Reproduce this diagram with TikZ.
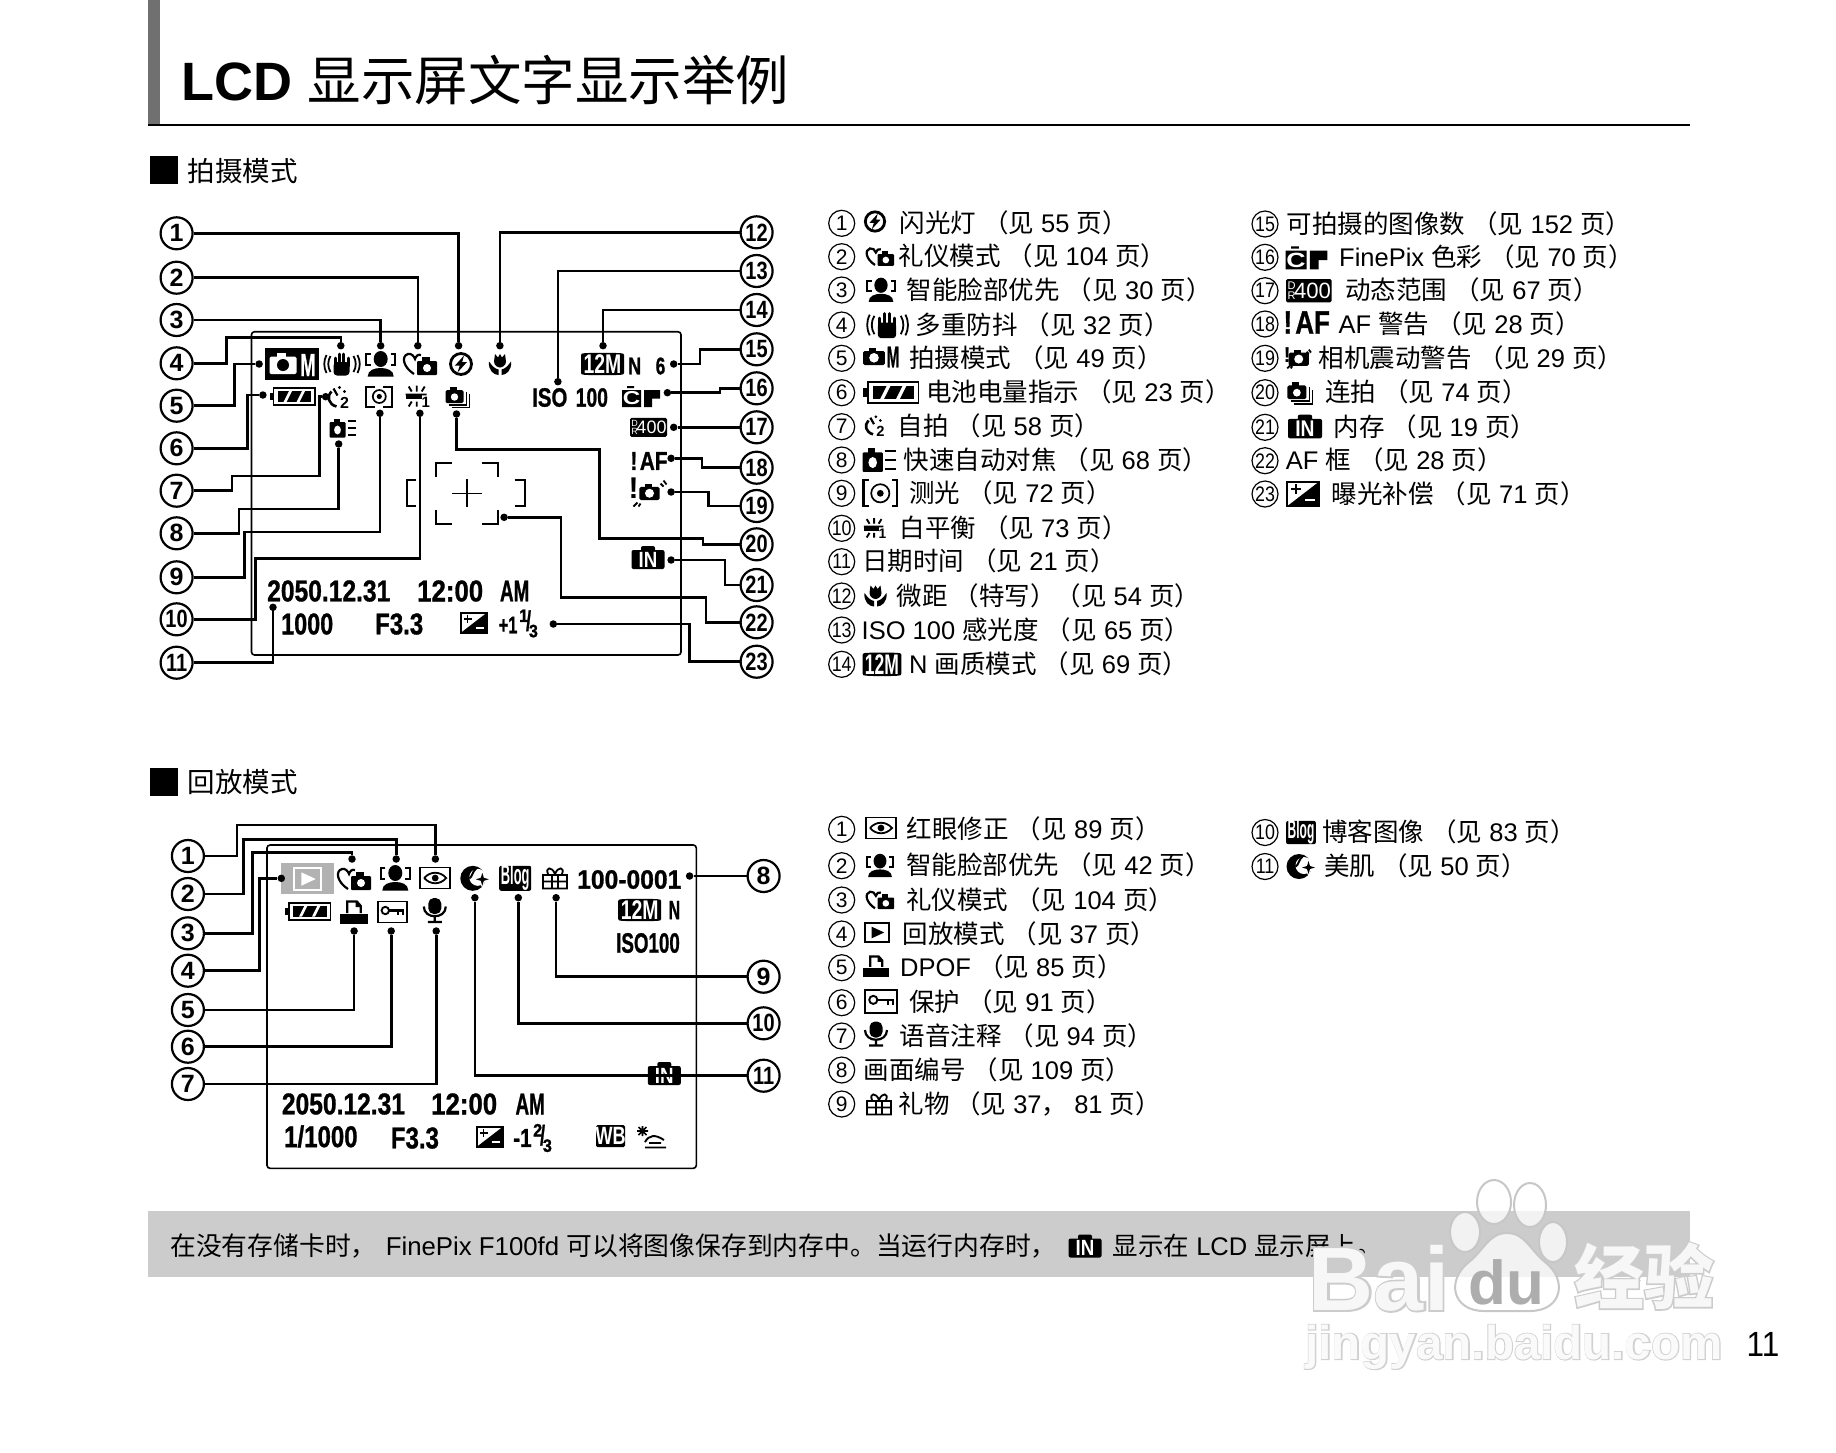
\documentclass[tikz,border=0pt]{standalone}
\usepackage{fontspec}
\setmainfont{Liberation Sans}
\newfontfamily\cjk{Noto Sans CJK SC}
\newfontfamily\lcdfont{Liberation Sans}[BoldFeatures={FakeBold=1.1}]
\newfontfamily\wmfont{Liberation Sans}[BoldFeatures={FakeBold=4}]
\newfontfamily\wmcjk{Noto Sans CJK SC}[BoldFeatures={FakeBold=4}]
\newcommand{\sz}[1]{\fontsize{#1}{#1}\selectfont}
\newcommand{\cnd}[2]{\scalebox{#1}[1]{#2}}
\newcommand{\pg}[1]{ {\cjk （见} #1 {\cjk 页）}}
\newcommand{\frc}[2]{\raisebox{.36em}{\sz{18}#1}\kern-.1em\scalebox{1}[1.4]{\sz{20}/}\kern-.1em\raisebox{-.28em}{\sz{18}#2}}
\tikzset{
  callout/.style={circle, draw, line width=2.2, minimum size=32, inner sep=0, font=\bfseries\sz{25}},
  leader/.style={line width=2.6},
  leadtip/.style={circle, fill, minimum size=7.5, inner sep=0},
  lcdframe/.style={line width=1.6, rounded corners=3},
  lcdtext/.style={anchor=west, inner sep=0, font=\lcdfont\bfseries\sz{30}},
  rownum/.style={circle, draw, line width=1.2, minimum size=26, inner sep=0, font=\sz{21}},
  rowtext/.style={anchor=west, inner sep=0, font=\sz{25.5}, text height=21pt, text depth=3pt},
  icontext/.style={transform shape, inner sep=0, font=\bfseries},
  camhole/.style={white},
  cam/.pic={\fill[rounded corners=1.5] (-13.5,-7.5) rectangle (13.5,10);
    \fill (-6,-11) rectangle (3,-6);
    \fill[camhole] (0,1) circle (6);},
  camM/.pic={\fill (-27,-16) rectangle (27,16);
    \pic[white, camhole/.style={black}] at (-9,0) {cam};
    \node[icontext, text=white, font=\lcdfont\bfseries\sz{32}] (m) at (16,1) {\cnd{.58}{M}};},
  camplain/.pic={\pic[scale=.8] at (-7,0) {cam};
    \node[icontext, font=\lcdfont\bfseries\sz{30}] (m) at (12,0) {\cnd{.5}{M}};},
  hand/.pic={\draw[line width=1.8] (-11,-8) .. controls (-14,-3) and (-14,3) .. (-11,8)
      (-15,-9) .. controls (-18,-3) and (-18,3) .. (-15,9)
      (12,-8) .. controls (15,-3) and (15,3) .. (12,8)
      (16,-9) .. controls (19,-3) and (19,3) .. (16,9);
    \fill[rounded corners=3.5] (-8,-2) rectangle (8,11.5);
    \draw[line width=3, line cap=round] (-6.5,2) -- (-6.5,-6) (-2.2,2) -- (-2.2,-10) (2.2,2) -- (2.2,-10) (6.5,2) -- (6.5,-6);},
  face/.pic={\draw[line width=2] (-10,-10) -- (-14.5,-10) -- (-14.5,1) -- (-10,1) (10,-10) -- (14.5,-10) -- (14.5,1) -- (10,1);
    \fill (0,-5) ellipse (7 and 8);
    \fill (-13,12.5) .. controls (-13,6) and (-6,4) .. (0,4) .. controls (6,4) and (13,6) .. (13,12.5) -- cycle;},
  heartcam/.pic={\draw[line width=2.2] (-6,10) .. controls (-17,3) and (-19,-8) .. (-12,-10) .. controls (-9,-11) and (-6,-8) .. (-5,-5) .. controls (-4,-8) and (-2,-10) .. (1,-9);
    \fill[rounded corners=1] (-3,-3) rectangle (17,11);
    \fill (2,-7) rectangle (10,-2);
    \fill[white] (7,4) circle (4);},
  flash/.pic={\draw[line width=2.8] (0,0) circle (10.5);
    \fill (3,-8.5) -- (-6,1.5) -- (-1.2,1.5) -- (-3.5,8.5) -- (6,-2) -- (1.2,-2) -- cycle;},
  tulip/.pic={\fill (-5,-10.5) -- (-2,-7) -- (0,-10.5) -- (2,-7) -- (5,-10.5) -- (6,-3) .. controls (6,1) and (2,3) .. (0,3) .. controls (-2,3) and (-6,1) .. (-6,-3) -- cycle;
    \fill (-11,-3) .. controls (-12,6) and (-6,10.5) .. (-1.5,10.5) -- (-1.5,5) .. controls (-6,4) and (-8,1) .. cycle;
    \fill (11,-3) .. controls (12,6) and (6,10.5) .. (1.5,10.5) -- (1.5,5) .. controls (6,4) and (8,1) .. cycle;},
  mpbox/.pic={\fill[rounded corners=1] (-21.5,-10) .. controls (-18,-11.5) and (18,-11.5) .. (21.5,-10) -- (21.5,10) .. controls (18,11.5) and (-18,11.5) .. (-21.5,10) -- cycle;
    \node[icontext, text=white, font=\bfseries\sz{27}] (m) at (0,0) {\cnd{.72}{12M}};},
  battery/.pic={\fill (-23,-3.5) rectangle (-20,3.5);
    \draw[line width=1.7] (-19,-8.5) rectangle (22.5,8.5);
    \fill (-15,-5.5) rectangle (18.5,5.5);
    \fill[white] (-9,5.5) -- (-3.5,-5.5) -- (-.5,-5.5) -- (-6,5.5) -- cycle (4,5.5) -- (9.5,-5.5) -- (12.5,-5.5) -- (7,5.5) -- cycle;},
  timer/.pic={\draw[line width=2.6] (-6,-6) .. controls (-11,-1) and (-9,7) .. (-1,9);
    \draw[line width=2.2] (-4,-9) -- (0,-2);
    \fill (2,-10) circle (1.6) (7,-6) circle (1.6);
    \node[icontext, font=\bfseries\sz{16}] (n) at (7,5.5) {2};},
  meter/.pic={\draw[line width=2] (-4,-10) -- (-13,-10) -- (-13,10) -- (-4,10) (4,-10) -- (13,-10) -- (13,10) -- (4,10);
    \draw[line width=1.7] (0,0) circle (6.5);
    \fill (0,0) circle (2.6);},
  meterlist/.pic={\draw[line width=2.2] (-9,-10) -- (-13,-10) -- (-13,10) -- (-9,10) (9,-10) -- (13,-10) -- (13,10) -- (9,10);
    \draw[line width=1.7] (0,0) circle (7);
    \fill (0,0) circle (2.6);},
  wbal/.pic={\draw[line width=1.9] (-9,-10) -- (-6,-5) (-1,-11) -- (-1,-5) (7,-10) -- (4,-5) (-12,-2) -- (9,-2) (-9,10) -- (-6,5) (-1,10) -- (-1,5);
    \fill (-12,-1.5) rectangle (4,2.5);
    \node[icontext, font=\bfseries\sz{15}] (n) at (8,6) {1};},
  contshot/.pic={\fill[rounded corners=1.5] (-12,-7) rectangle (6,6);
    \fill (-8,-10) rectangle (-1,-6);
    \fill[white] (-3,0) circle (3.7);
    \draw[line width=1.7] (-9,8) -- (9,8) -- (9,-5) (-6,10.5) -- (12,10.5) -- (12,-3);},
  cfilm/.pic={\fill (-19,-6) rectangle (0,11) (-14,-10) rectangle (-7,-8);
    \node[icontext, text=white, font=\bfseries\sz{22}] (c) at (-9.5,2.5) {\scalebox{1.1}[.85]{C}};
    \fill (3,-6) rectangle (19,2.5) (3,2.5) rectangle (11,11);},
  drbox/.pic={\fill[rounded corners=1.5] (-18.5,-9.5) rectangle (18.5,9.5);
    \node[icontext, text=white, font=\sz{9}] (dd) at (-14,-4) {D};
    \node[icontext, text=white, font=\sz{9}] (rr) at (-14,4) {R};
    \node[icontext, text=white, font=\sz{18}] (dv) at (3,0) {400};},
  afwarn/.pic={\node[icontext, font=\lcdfont\bfseries\sz{26}] (af) at (0,0) {\cnd{.8}{!\kern.12em AF}};},
  shake/.pic={\node[icontext, font=\bfseries\sz{30}] (ex) at (-15,-4) {!};
    \pic[scale=.75] at (1,0) {cam};
    \draw[line width=1.8] (12,-9) -- (15,-6) (15,-12) -- (18,-8) (-15,14) -- (-11,10) (-10,14) -- (-8,11);},
  inmem/.pic={\fill[rounded corners=2] (-16.5,-7.5) rectangle (16.5,11.5) (-7,-11.5) rectangle (7,-6);
    \node[icontext, text=white, font=\bfseries\sz{22}] (in) at (0,2) {\cnd{.85}{IN}};},
  evcomp/.pic={\draw[line width=2] (-13,-10) rectangle (13,10);
    \fill (13,-10) -- (13,10) -- (-13,10) -- cycle;
    \draw[line width=1.9] (-10,-4) -- (-2,-4) (-6,-8) -- (-6,0);
    \draw[white, line width=1.9] (2,5) -- (10,5);},
  quickaf/.pic={\fill[rounded corners=1] (-13,-6) rectangle (3,9.5);
    \fill (-9,-9.5) rectangle (-3,-5);
    \fill[white] (-5,2) ellipse (3.4 and 4.4);
    \draw[line width=1.9] (5,-7) -- (13.5,-7) (5,0) -- (13.5,0) (5,7) -- (13.5,7);},
  eyebox/.pic={\draw[line width=1.9] (-15,-10.5) rectangle (15,10.5);
    \draw[line width=1.8] (-11,0) .. controls (-5,-7) and (5,-7) .. (11,0) .. controls (5,7) and (-5,7) .. (-11,0);
    \fill (0,0) circle (3.4);},
  playbox/.pic={\draw[line width=2] (-13.5,-10.5) rectangle (13.5,10.5);
    \fill (-6,-6.5) -- (8,0) -- (-6,6.5) -- cycle;},
  printer/.pic={\draw[line width=2.3] (-6.5,1) -- (-6.5,-10.5) -- (3,-10.5) -- (7,-6) -- (7,1) (3,-10.5) -- (3,-6) -- (7,-6);
    \fill (-14,2) rectangle (14,12);},
  keybox/.pic={\draw[line width=1.9] (-14.5,-10.5) rectangle (14.5,10.5);
    \draw[line width=1.9] (-7,-1.5) circle (3.7);
    \draw[line width=2.2] (-3.3,-1.5) -- (11,-1.5) -- (11,3) (6,-1.5) -- (6,3);},
  mic/.pic={\fill[rounded corners=5.5] (-6.5,-12.5) rectangle (6.5,3.5);
    \draw[line width=2.2] (-11,-4) .. controls (-11,9) and (11,9) .. (11,-4) (0,6) -- (0,11.5) (-7,11.5) -- (7,11.5);},
  beauty/.pic={\fill (-2.5,0) circle (12.5);
    \fill[white] (2.5,-1) circle (8.5);
    \draw[line width=2] (-6,0) .. controls (-3,-1) and (-3,-7) .. (1,-10);
    \fill[white] (7,-8) -- (9.5,-1.5) -- (16,1) -- (9.5,3.5) -- (7,10) -- (4.5,3.5) -- (-2,1) -- (4.5,-1.5) -- cycle;
    \fill (7,-5.5) -- (8.5,-.5) -- (13.5,1) -- (8.5,2.5) -- (7,7.5) -- (5.5,2.5) -- (.5,1) -- (5.5,-.5) -- cycle;},
  blogbox/.pic={\fill[rounded corners=2] (-16,-12.5) rectangle (16,12.5);
    \node[icontext, text=white, font=\bfseries\sz{28}] (bl) at (0,-.5) {\cnd{.46}{Blog}};},
  gift/.pic={\draw[line width=1.8] (-12,-3) rectangle (12,10.5) (-12,3.5) -- (12,3.5) (-3,-3) -- (-3,10.5) (3,-3) -- (3,10.5)
      (0,-4) .. controls (-3,-12) and (-10,-11) .. (-7,-4) (0,-4) .. controls (3,-12) and (10,-11) .. (7,-4);},
  wbtag/.pic={\fill[rounded corners=1.5] (-14.5,-11) rectangle (14.5,11);
    \node[icontext, text=white, font=\bfseries\sz{25}] (wb) at (0,0) {\cnd{.72}{WB}};},
  sunsea/.pic={\draw[line width=1.6] (-14,-6) -- (-3,-6) (-8.5,-11) -- (-8.5,-1) (-12.5,-10) -- (-4.5,-2) (-4.5,-10) -- (-12.5,-2);
    \draw[line width=1.9] (-6,5) .. controls (-2,-2) and (4,-3) .. (13,3) (-2,6) -- (10,6) (-6,10.5) -- (15,10.5);},
}
\begin{document}
\begin{tikzpicture}[x=1pt, y=-1pt]
\useasboundingbox (0,0) rectangle (1836,1452);
% page head
\fill[black!56] (147.5,0) rectangle (160,124);
\draw[line width=2.4] (147.5,125) -- (1690,125);
\node[anchor=west, inner sep=0, font=\sz{54}] (title) at (181.5,80) {\textbf{LCD} {\sz{53.5}\cjk 显示屏文字显示举例}};
\fill (150,156) rectangle (178,184);
\node[anchor=west, inner sep=0, font=\sz{27.5}] (shoot) at (187.5,171) {\cjk 拍摄模式};
\fill (150,768) rectangle (178,796);
\node[anchor=west, inner sep=0, font=\sz{27.5}] (replay) at (187.5,782) {\cjk 回放模式};

% shooting screen
\draw[lcdframe] (251.5,331.7) rectangle (681,655);
\pic at (292,364) {camM};
\pic at (341.5,364) {hand};
\pic at (380.7,364) {face};
\pic at (420,364) {heartcam};
\pic at (461,364) {flash};
\pic at (500,364.5) {tulip};
\pic at (602.5,364) {mpbox};
\pic at (292.5,396.7) {battery};
\pic at (337.5,397.5) {timer};
\pic at (379.3,396.5) {meter};
\pic at (417.7,396.5) {wbal};
\pic at (457.5,397) {contshot};
\pic at (342.5,428) {quickaf};
\pic at (641,396) {cfilm};
\pic at (648.5,427.3) {drbox};
\pic at (649,461) {afwarn};
\pic at (648.5,492.5) {shake};
\pic at (648,557.5) {inmem};
\pic at (473.5,623) {evcomp};
\node[lcdtext, font=\lcdfont\bfseries\sz{26.5}] (iso) at (532,397.5) {\cnd{.77}{ISO}};
\node[lcdtext, font=\lcdfont\bfseries\sz{26.5}] (hundred) at (575.5,397.5) {\cnd{.73}{100}};
\node[lcdtext, font=\lcdfont\bfseries\sz{24}] (qual) at (628,366) {\cnd{.75}{N}};
\node[lcdtext, font=\lcdfont\bfseries\sz{24}] (left) at (655.5,366) {\cnd{.72}{6}};
\node[lcdtext] (date) at (267,591) {\cnd{.82}{2050.12.31}};
\node[lcdtext] (time) at (417,591) {\cnd{.86}{12:00}};
\node[lcdtext] (ampm) at (499.8,591) {\cnd{.63}{AM}};
\node[lcdtext] (speed) at (281,624) {\cnd{.78}{1000}};
\node[lcdtext] (fnum) at (375,624) {\cnd{.8}{F3.3}};
\node[lcdtext, font=\lcdfont\bfseries\sz{24}] (evval) at (498.6,625) {\cnd{.68}{+1}};
\node[lcdtext, font=\lcdfont\bfseries\sz{24}] (evfrac) at (519,623.5) {\cnd{.9}{\frc{1}{3}}};
% AF frame
\draw[line width=1.8] (451.5,462.7) -| (436,476.7) (482,462.7) -| (497.7,476.7)
  (451.5,524) -| (436,510) (482,524) -| (497.7,510)
  (415.7,480) -| (407,506) -- (415.7,506) (514.6,480) -| (525,506) -- (514.6,506);
\draw[line width=1.6] (452,493.3) -- (482,493.3) (467,479.3) -- (467,507.3);

% shooting callouts
\node[callout] (l1) at (176.6,233.3) {1};
\node[callout] (l2) at (176.6,277.7) {2};
\node[callout] (l3) at (176.6,320) {3};
\node[callout] (l4) at (176.6,363.3) {4};
\node[callout] (l5) at (176.6,405.7) {5};
\node[callout] (l6) at (176.6,448.3) {6};
\node[callout] (l7) at (176.6,490.7) {7};
\node[callout] (l8) at (176.6,533.3) {8};
\node[callout] (l9) at (176.6,577.3) {9};
\node[callout] (l10) at (176.6,619.3) {\cnd{.8}{10}};
\node[callout] (l11) at (176.6,662.7) {\cnd{.8}{11}};
\node[callout] (r12) at (756.6,232.3) {\cnd{.8}{12}};
\node[callout] (r13) at (756.6,271) {\cnd{.8}{13}};
\node[callout] (r14) at (756.6,310) {\cnd{.8}{14}};
\node[callout] (r15) at (756.6,349.3) {\cnd{.8}{15}};
\node[callout] (r16) at (756.6,388.3) {\cnd{.8}{16}};
\node[callout] (r17) at (756.6,427.3) {\cnd{.8}{17}};
\node[callout] (r18) at (756.6,467.7) {\cnd{.8}{18}};
\node[callout] (r19) at (756.6,506) {\cnd{.8}{19}};
\node[callout] (r20) at (756.6,544.3) {\cnd{.8}{20}};
\node[callout] (r21) at (756.6,585) {\cnd{.8}{21}};
\node[callout] (r22) at (756.6,622.3) {\cnd{.8}{22}};
\node[callout] (r23) at (756.6,661.7) {\cnd{.8}{23}};
\node[leadtip] (d1) at (458.6,345.7) {};
\node[leadtip] (d2) at (417.8,345.7) {};
\node[leadtip] (d3) at (380.7,345.7) {};
\node[leadtip] (d4) at (340.8,345.7) {};
\node[leadtip] (d5) at (259.1,364) {};
\node[leadtip] (d6) at (262.9,395) {};
\node[leadtip] (d7) at (325.6,396.7) {};
\node[leadtip] (d8) at (338.7,444) {};
\node[leadtip] (d9) at (379.9,413.3) {};
\node[leadtip] (d10) at (419.9,413.3) {};
\node[leadtip] (d11) at (273,607.3) {};
\node[leadtip] (d12) at (499.9,345.7) {};
\node[leadtip] (d13) at (557.9,381.7) {};
\node[leadtip] (d14) at (603,345.7) {};
\node[leadtip] (d15) at (673.7,364) {};
\node[leadtip] (d16) at (667.4,392.7) {};
\node[leadtip] (d17) at (673.7,427.3) {};
\node[leadtip] (d18) at (671.1,458.3) {};
\node[leadtip] (d19) at (671.1,492) {};
\node[leadtip] (d20) at (456.5,414) {};
\node[leadtip] (d21) at (671.1,560) {};
\node[leadtip] (d22) at (504.1,517.3) {};
\node[leadtip] (d23) at (553.3,624) {};
\draw[leader] (l1) -| (d1);
\draw[leader] (l2) -| (d2);
\draw[leader] (l3) -| (d3);
\draw[leader] (l4) -| (226.3,337.3) -| (d4);
\draw[leader] (l5) -| (234.7,364) -- (d5);
\draw[leader] (l6) -| (247.3,395) -- (d6);
\draw[leader] (l7) -| (231.8,476) -| (319.7,396.7) -- (d7);
\draw[leader] (l8) -| (238.9,509) -| (d8);
\draw[leader] (l9) -| (244.4,532) -| (d9);
\draw[leader] (l10) -| (255.7,558.3) -| (d10);
\draw[leader] (l11) -| (d11);
\draw[leader] (r12) -| (d12);
\draw[leader] (r13) -| (d13);
\draw[leader] (r14) -| (d14);
\draw[leader] (r15) -| (699.8,364) -- (d15);
\draw[leader] (r16) -| (720,392.7) -- (d16);
\draw[leader] (r17) -- (d17);
\draw[leader] (r18) -| (701.9,458.3) -- (d18);
\draw[leader] (r19) -| (708.2,492) -- (d19);
\draw[leader] (r20) -| (703.1,538.3) -| (599.6,449.3) -| (d20);
\draw[leader] (r21) -| (725,560) -- (d21);
\draw[leader] (r22) -| (706,597.3) -| (560.9,517.3) -- (d22);
\draw[leader] (r23) -| (689.2,624) -- (d23);

% shooting list
\node[rownum] (a1) at (841.7,223.3) {1};
\node[rownum] (a2) at (841.7,256.7) {2};
\node[rownum] (a3) at (841.7,290) {3};
\node[rownum] (a4) at (841.7,325) {4};
\node[rownum] (a5) at (841.7,358.3) {5};
\node[rownum] (a6) at (841.7,392.7) {6};
\node[rownum] (a7) at (841.7,426.7) {7};
\node[rownum] (a8) at (841.7,460) {8};
\node[rownum] (a9) at (841.7,493.3) {9};
\node[rownum] (a10) at (841.7,528.3) {\cnd{.85}{10}};
\node[rownum] (a11) at (841.7,561.7) {\cnd{.85}{11}};
\node[rownum] (a12) at (841.7,596) {\cnd{.85}{12}};
\node[rownum] (a13) at (841.7,630) {\cnd{.85}{13}};
\node[rownum] (a14) at (841.7,664.3) {\cnd{.85}{14}};
\pic[scale=.92] at (875,221.5) {flash};
\pic[scale=.83] at (880,256.7) {heartcam};
\pic[scale=.95] at (881,290) {face};
\pic[scale=1.15] at (887,325) {hand};
\pic at (881,357) {camplain};
\pic[scale=1.22] at (891,392.7) {battery};
\pic[scale=.92] at (874,426) {timer};
\pic[scale=1.26] at (879,460) {quickaf};
\pic[scale=1.3] at (880.3,493.3) {meterlist};
\pic[scale=.92] at (875,528.3) {wbal};
\pic at (875.5,596) {tulip};
\pic[xscale=.9, yscale=1.05] at (882,664.3) {mpbox};
\node[rowtext] (t1) at (899.3,223.3) {{\cjk 闪光灯}\pg{55}};
\node[rowtext] (t2) at (898.3,256.7) {{\cjk 礼仪模式}\pg{104}};
\node[rowtext] (t3) at (906.7,290) {{\cjk 智能脸部优先}\pg{30}};
\node[rowtext] (t4) at (915.7,325) {{\cjk 多重防抖}\pg{32}};
\node[rowtext] (t5) at (909,358.3) {{\cjk 拍摄模式}\pg{49}};
\node[rowtext] (t6) at (926,392.7) {{\cjk 电池电量指示}\pg{23}};
\node[rowtext] (t7) at (897.3,426.7) {{\cjk 自拍}\pg{58}};
\node[rowtext] (t8) at (903.3,460) {{\cjk 快速自动对焦}\pg{68}};
\node[rowtext] (t9) at (909,493.3) {{\cjk 测光}\pg{72}};
\node[rowtext] (t10) at (899.3,528.3) {{\cjk 白平衡}\pg{73}};
\node[rowtext] (t11) at (862,561.7) {{\cjk 日期时间}\pg{21}};
\node[rowtext] (t12) at (896.7,596) {{\cjk 微距 （特写）（见} 54 {\cjk 页）}};
\node[rowtext] (t13) at (861.5,630) {ISO 100 {\cjk 感光度}\pg{65}};
\node[rowtext] (t14) at (909,664.3) {N {\cjk 画质模式}\pg{69}};
\node[rownum] (a15) at (1265,224) {\cnd{.85}{15}};
\node[rownum] (a16) at (1265,257.3) {\cnd{.85}{16}};
\node[rownum] (a17) at (1265,290.7) {\cnd{.85}{17}};
\node[rownum] (a18) at (1265,324) {\cnd{.85}{18}};
\node[rownum] (a19) at (1265,358.3) {\cnd{.85}{19}};
\node[rownum] (a20) at (1265,392.7) {\cnd{.85}{20}};
\node[rownum] (a21) at (1265,427.3) {\cnd{.85}{21}};
\node[rownum] (a22) at (1265,460.7) {\cnd{.85}{22}};
\node[rownum] (a23) at (1265,494) {\cnd{.85}{23}};
\pic[scale=1.1] at (1306.5,257.3) {cfilm};
\pic[scale=1.23] at (1308.8,290.7) {drbox};
\pic[scale=1.25] at (1306.7,322.5) {afwarn};
\pic[scale=.72] at (1298,358.3) {shake};
\pic[scale=1.05] at (1300,392.7) {contshot};
\pic[scale=1.03] at (1305,426.5) {inmem};
\pic[scale=1.2] at (1303,494) {evcomp};
\node[rowtext] (t15) at (1286.7,224) {{\cjk 可拍摄的图像数}\pg{152}};
\node[rowtext] (t16) at (1339,257.3) {FinePix {\cjk 色彩}\pg{70}};
\node[rowtext] (t17) at (1345,290.7) {{\cjk 动态范围}\pg{67}};
\node[rowtext] (t18) at (1338.3,324) {AF {\cjk 警告}\pg{28}};
\node[rowtext] (t19) at (1318.3,358.3) {{\cjk 相机震动警告}\pg{29}};
\node[rowtext] (t20) at (1325,392.7) {{\cjk 连拍}\pg{74}};
\node[rowtext] (t21) at (1333.3,427.3) {{\cjk 内存}\pg{19}};
\node[rowtext] (t22) at (1285.7,460.7) {AF {\cjk 框}\pg{28}};
\node[rowtext] (t23) at (1331.7,494) {{\cjk 曝光补偿}\pg{71}};

% replay screen
\draw[lcdframe] (267,845) rectangle (696.3,1168.3);
\fill[black!30] (281.3,863.3) rectangle (334,894);
\pic[white, scale=1.03] at (307.5,879) {playbox};
\pic at (354,879) {heartcam};
\pic at (395.3,878) {face};
\pic at (435.2,878) {eyebox};
\pic at (475.3,878.3) {beauty};
\pic at (515.2,878.3) {blogbox};
\pic at (555,878) {gift};
\pic at (639.7,910) {mpbox};
\pic at (308,911.2) {battery};
\pic at (353.8,912) {printer};
\pic at (392.3,912) {keybox};
\pic at (434.8,910.5) {mic};
\pic at (664.3,1073.5) {inmem};
\pic at (489.5,1137) {evcomp};
\pic at (610.5,1136) {wbtag};
\pic at (651,1137) {sunsea};
\node[lcdtext, font=\lcdfont\bfseries\sz{26.5}] (frame) at (577,879.5) {\cnd{.93}{100-0001}};
\node[lcdtext, font=\lcdfont\bfseries\sz{26.5}] (qual2) at (668.5,910) {\cnd{.6}{N}};
\node[lcdtext, font=\lcdfont\bfseries\sz{28}] (iso2) at (616,943) {\cnd{.67}{ISO100}};
\node[lcdtext] (date2) at (281.7,1104) {\cnd{.82}{2050.12.31}};
\node[lcdtext] (time2) at (431,1104) {\cnd{.86}{12:00}};
\node[lcdtext] (ampm2) at (515.3,1104) {\cnd{.63}{AM}};
\node[lcdtext] (speed2) at (284,1136.5) {\cnd{.8}{1/1000}};
\node[lcdtext] (fnum2) at (390.7,1138) {\cnd{.8}{F3.3}};
\node[lcdtext, font=\lcdfont\bfseries\sz{26}] (evval2) at (513,1138) {\cnd{.8}{-1}};
\node[lcdtext, font=\lcdfont\bfseries\sz{24}] (evfrac2) at (533,1138) {\cnd{.9}{\frc{2}{3}}};

% replay callouts
\node[callout] (b1) at (187.9,856) {1};
\node[callout] (b2) at (187.9,894) {2};
\node[callout] (b3) at (187.9,933.3) {3};
\node[callout] (b4) at (187.9,970.7) {4};
\node[callout] (b5) at (187.9,1010) {5};
\node[callout] (b6) at (187.9,1046.7) {6};
\node[callout] (b7) at (187.9,1084) {7};
\node[callout] (b8) at (763.6,876) {8};
\node[callout] (b9) at (763.6,976.7) {9};
\node[callout] (b10) at (763.6,1023.3) {\cnd{.8}{10}};
\node[callout] (b11) at (763.6,1075.7) {\cnd{.8}{11}};
\node[leadtip] (e1) at (435.4,859) {};
\node[leadtip] (e2) at (396.2,859) {};
\node[leadtip] (e3) at (352,859) {};
\node[leadtip] (e4) at (281.3,878.3) {};
\node[leadtip] (e5) at (354.1,931) {};
\node[leadtip] (e6) at (391.2,931) {};
\node[leadtip] (e7) at (436.2,931) {};
\node[leadtip] (e8) at (689.6,876) {};
\node[leadtip] (e9) at (556.1,897.7) {};
\node[leadtip] (e10) at (518.3,897.7) {};
\node[leadtip] (e11) at (474.9,897.7) {};
\draw[leader] (b1) -| (237.1,825) -| (e1);
\draw[leader] (b2) -| (243.4,839.3) -| (e2);
\draw[leader] (b3) -| (252.3,852.3) -| (e3);
\draw[leader] (b4) -| (259.4,878.3) -- (e4);
\draw[leader] (b5) -| (e5);
\draw[leader] (b6) -| (e6);
\draw[leader] (b7) -| (e7);
\draw[leader] (b8) -- (e8);
\draw[leader] (b9) -| (e9);
\draw[leader] (b10) -| (e10);
\draw[leader] (b11) -| (e11);

% replay list
\node[rownum] (c1) at (841.7,829.3) {1};
\node[rownum] (c2) at (841.7,865.7) {2};
\node[rownum] (c3) at (841.7,900) {3};
\node[rownum] (c4) at (841.7,934) {4};
\node[rownum] (c5) at (841.7,967.7) {5};
\node[rownum] (c6) at (841.7,1002.7) {6};
\node[rownum] (c7) at (841.7,1036) {7};
\node[rownum] (c8) at (841.7,1070) {8};
\node[rownum] (c9) at (841.7,1104) {9};
\node[rownum] (c10) at (1265,832.5) {\cnd{.85}{10}};
\node[rownum] (c11) at (1265,866.5) {\cnd{.85}{11}};
\pic at (881,828) {eyebox};
\pic[scale=.92] at (880,865.7) {face};
\pic[scale=.83] at (880,900) {heartcam};
\pic[scale=.9] at (877,932.5) {playbox};
\pic[scale=.9] at (876,966) {printer};
\pic[scale=1.1] at (881,1001.5) {keybox};
\pic at (876,1034) {mic};
\pic at (879,1104) {gift};
\pic[scale=.93] at (1301,832.5) {blogbox};
\pic at (1301.5,866.5) {beauty};
\node[rowtext] (u1) at (906.7,829.3) {{\cjk 红眼修正}\pg{89}};
\node[rowtext] (u2) at (906,865.7) {{\cjk 智能脸部优先}\pg{42}};
\node[rowtext] (u3) at (906,900) {{\cjk 礼仪模式}\pg{104}};
\node[rowtext] (u4) at (902.3,934) {{\cjk 回放模式}\pg{37}};
\node[rowtext] (u5) at (900,967.7) {DPOF\pg{85}};
\node[rowtext] (u6) at (909,1002.7) {{\cjk 保护}\pg{91}};
\node[rowtext] (u7) at (899.3,1036) {{\cjk 语音注释}\pg{94}};
\node[rowtext] (u8) at (863.3,1070) {{\cjk 画面编号}\pg{109}};
\node[rowtext] (u9) at (898.3,1104) {{\cjk 礼物 （见} 37{\cjk ，} 81 {\cjk 页）}};
\node[rowtext] (u10) at (1322,832.5) {{\cjk 博客图像}\pg{83}};
\node[rowtext] (u11) at (1324,866.5) {{\cjk 美肌}\pg{50}};

% note bar
\fill[black!20] (147.5,1211) rectangle (1690,1277);
\node[rowtext, font=\sz{25.8}] (note) at (170,1246) {{\cjk 在没有存储卡时，} \kern2pt FinePix F100fd {\cjk 可以将图像保存到内存中。当运行内存时，}};
\pic at (1085,1246) {inmem};
\node[rowtext] (note2) at (1112.5,1246) {{\cjk 显示在} LCD {\cjk 显示屏上。}};
\node[inner sep=0, font=\sz{35}] (pageno) at (1763,1344) {\cnd{.9}{11}};

% paw mark
\fill[white, fill opacity=.75, draw=black!22, line width=2] (1494,1202) ellipse (17 and 22) (1530,1205) ellipse (16 and 22) (1465,1232) ellipse (15 and 20) (1553,1242) ellipse (14 and 20);
\fill[white, fill opacity=.75, draw=black!22, line width=2] (1507,1233) .. controls (1525,1233) and (1530,1250) .. (1545,1262) .. controls (1568,1280) and (1562,1311) .. (1530,1311) -- (1484,1311) .. controls (1452,1311) and (1446,1280) .. (1469,1262) .. controls (1484,1250) and (1489,1233) .. (1507,1233) -- cycle;
\node[inner sep=0, text=black!32, font=\bfseries\sz{62}] (du) at (1506,1282) {du};
\node[inner sep=0, text=black!20, font=\wmfont\bfseries\sz{90}] (bshade) at (1379,1278) {Bai};
\node[inner sep=0, text=white, text opacity=.85, font=\bfseries\sz{90}] (bai) at (1379,1278) {Bai};
\node[inner sep=0, text=black!20, font=\wmcjk\bfseries\sz{70}] (jshade) at (1644,1276) {经验};
\node[inner sep=0, text=white, text opacity=.85, font=\bfseries\cjk\sz{70}] (jy) at (1644,1276) {经验};
\node[inner sep=0, text=black!18, font=\wmfont\bfseries\sz{47.5}] (ushade) at (1514,1347) {jingyan.baidu.com};
\node[inner sep=0, text=white, text opacity=.9, font=\bfseries\sz{47.5}] (url) at (1514,1347) {jingyan.baidu.com};
\end{tikzpicture}
\end{document}
